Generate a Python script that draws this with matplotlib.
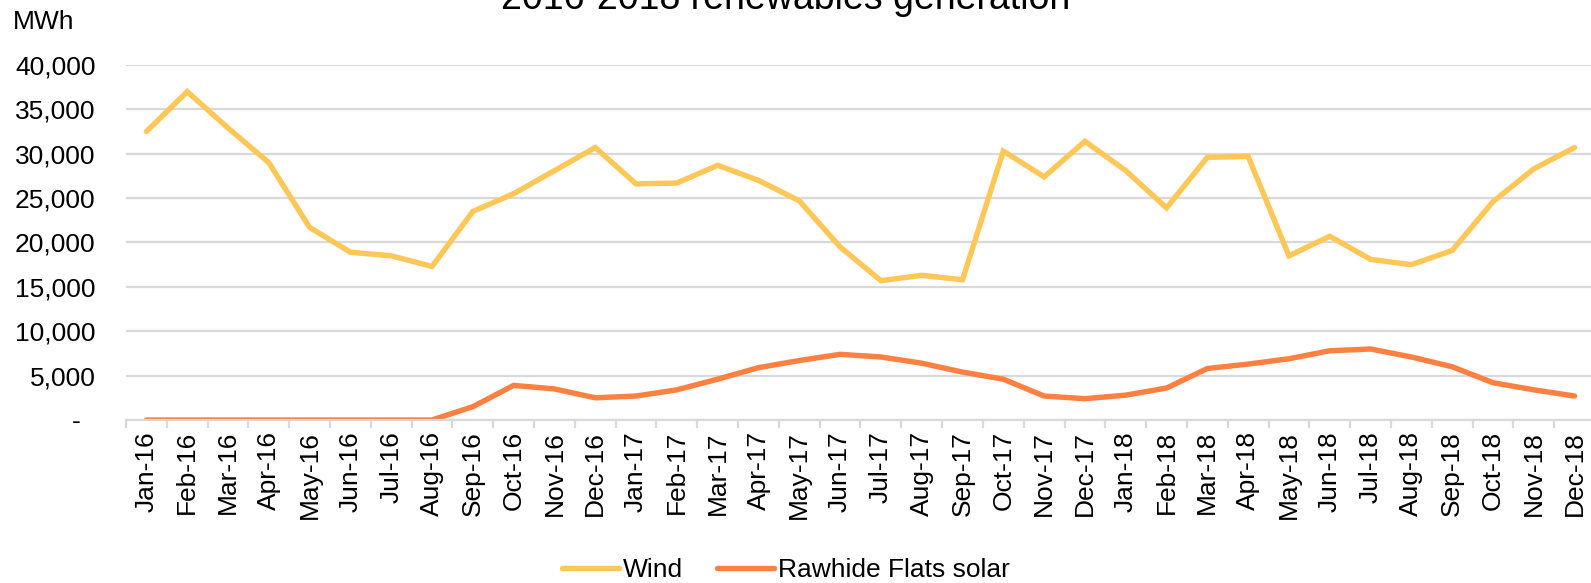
import matplotlib
matplotlib.use("Agg")
import matplotlib.pyplot as plt
from matplotlib.ticker import FuncFormatter, MultipleLocator, FixedLocator
import numpy as np

months = ["Jan-16", "Feb-16", "Mar-16", "Apr-16", "May-16", "Jun-16", "Jul-16", "Aug-16",
          "Sep-16", "Oct-16", "Nov-16", "Dec-16", "Jan-17", "Feb-17", "Mar-17", "Apr-17",
          "May-17", "Jun-17", "Jul-17", "Aug-17", "Sep-17", "Oct-17", "Nov-17", "Dec-17",
          "Jan-18", "Feb-18", "Mar-18", "Apr-18", "May-18", "Jun-18", "Jul-18", "Aug-18",
          "Sep-18", "Oct-18", "Nov-18", "Dec-18"]

wind = [32500, 37000, 32900, 29000, 21700, 18900, 18500, 17300,
        23500, 25500, 28100, 30700, 26600, 26700, 28700, 27000,
        24700, 19500, 15700, 16300, 15800, 30300, 27400, 31400,
        28100, 23900, 29600, 29700, 18500, 20700, 18100, 17500,
        19100, 24600, 28300, 30700]

solar = [0, 0, 0, 0, 0, 0, 0, 0,
         1500, 3900, 3500, 2500, 2700, 3400, 4600, 5900,
         6700, 7400, 7100, 6400, 5400, 4600, 2700, 2400,
         2800, 3600, 5800, 6300, 6900, 7800, 8000, 7100,
         6000, 4200, 3400, 2700]

plt.rcParams['font.family'] = ['Liberation Sans', 'DejaVu Sans']

fig = plt.figure(figsize=(15.91, 5.83), dpi=100)
ax = fig.add_axes([0.0792, 0.2796, 0.9233, 0.6089])

x = np.arange(len(months))
ax.plot(x, wind, color="#FFC658", lw=3.9, solid_capstyle="round", solid_joinstyle="miter", label="Wind")
ax.plot(x, solar, color="#FF8040", lw=3.9, solid_capstyle="round", solid_joinstyle="miter", label="Rawhide Flats solar")

ax.set_xlim(-0.5, len(months) - 0.5)
ax.set_ylim(0, 40000)
ax.yaxis.set_major_locator(MultipleLocator(5000))
ax.yaxis.set_major_formatter(FuncFormatter(lambda v, p: "-\u2007" if v == 0 else f"{int(v):,}"))
ax.grid(axis="y", color="#D9D9D9", lw=1.6)
ax.set_axisbelow(True)

ax.set_xticks(x)
ax.set_xticklabels(months, rotation=90)
ax.xaxis.set_minor_locator(FixedLocator(np.arange(-0.5, len(months), 1)))
ax.tick_params(axis="x", which="major", length=0, pad=8, labelsize=19)
ax.tick_params(axis="x", which="minor", length=6, color="#D9D9D9", width=1.6)
ax.tick_params(axis="y", length=0, pad=22, labelsize=19)

for s in ["top", "right", "left"]:
    ax.spines[s].set_visible(False)
ax.spines["bottom"].set_color("#D9D9D9")
ax.spines["bottom"].set_linewidth(1.6)

fig.text(0.008, 0.962, "MWh", fontsize=19, ha="left", va="center")
fig.text(0.494, 0.985, "2016-2018 renewables generation", fontsize=27, ha="center", va="baseline")

fig.legend(loc="center", bbox_to_anchor=(0.494, 0.022), ncol=2, frameon=False,
           fontsize=19, handlelength=2.15, handletextpad=0.15, columnspacing=1.3,
           borderpad=0, borderaxespad=0)

fig.savefig("out.png", dpi=100)
